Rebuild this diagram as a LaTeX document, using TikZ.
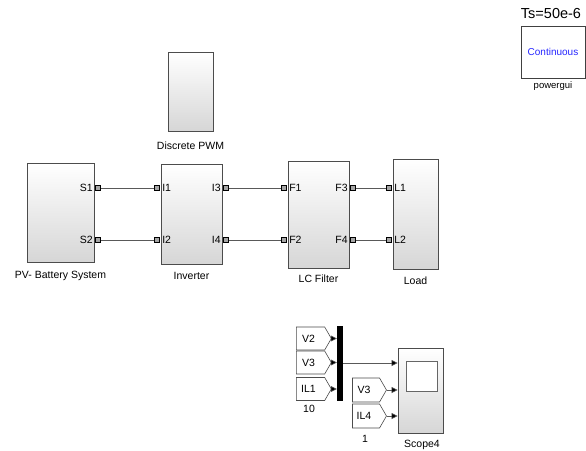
\documentclass[tikz,border=0pt]{standalone}
\usepackage{fontspec}
\setmainfont{Liberation Sans}
\usetikzlibrary{shapes.symbols,arrows.meta,shadows}
\tikzset{
  blk/.style={draw=black!70, line width=0.8pt, top color=white, bottom color=black!16, inner sep=0pt,
    drop shadow={shadow xshift=1.2pt, shadow yshift=-1.2pt, opacity=0.35}},
  port/.style={draw=black, line width=1.3pt, fill=black!35, minimum size=4.6pt, inner sep=0pt},
  plbl/.style={font=\fontsize{10.5}{11}\selectfont, inner sep=1.5pt},
  lbl/.style={font=\fontsize{10.5}{12}\selectfont, inner sep=0pt},
  wire/.style={draw=black!65, line width=0.6pt},
  sig/.style={draw=black!65, line width=0.6pt, -{Triangle[length=6pt,width=6pt,fill=black]}},
  tag/.style={signal, signal to=east, signal pointer angle=120, draw=black!70, line width=0.6pt, fill=white,
    inner sep=0pt, font=\fontsize{10.5}{12}\selectfont, align=left},
}
\begin{document}
\begin{tikzpicture}[x=1pt,y=-1pt]
\useasboundingbox (0,0) rectangle (586,450);
\fill[white] (0,0) rectangle (586,450);

% blocks
\node[blk, minimum width=45pt, minimum height=79pt] (pwm) at (190.5,91.5) {};
\node[lbl] (pwmL) at (190.5,146) {Discrete PWM};

\node[blk, minimum width=67pt, minimum height=99pt] (pv) at (60.5,212.5) {};
\node[blk, minimum width=61pt, minimum height=100pt] (inv) at (191.5,214) {};
\node[blk, minimum width=61pt, minimum height=107pt] (lc) at (318.5,214.5) {};
\node[blk, minimum width=45pt, minimum height=110pt] (load) at (415.5,214) {};

\node[lbl] (pvL) at (60.5,276) {PV- Battery System};
\node[lbl] (invL) at (191.5,276) {Inverter};
\node[lbl] (lcL) at (318.5,279) {LC Filter};
\node[lbl] (loadL) at (415.5,281) {Load};

% ports
\node[port] (s1) at (98,188) {};
\node[port] (s2) at (98,240) {};
\node[port] (i1) at (157,188) {};
\node[port] (i2) at (157,240) {};
\node[port] (i3) at (226,188) {};
\node[port] (i4) at (226,240) {};
\node[port] (f1) at (284,188) {};
\node[port] (f2) at (284,240) {};
\node[port] (f3) at (353,188) {};
\node[port] (f4) at (353,240) {};
\node[port] (l1) at (389,188) {};
\node[port] (l2) at (389,240) {};

% port labels
\node[plbl, anchor=east] (s1t) at (pv.east |- s1) {S1};
\node[plbl, anchor=east] (s2t) at (pv.east |- s2) {S2};
\node[plbl, anchor=west] (i1t) at (inv.west |- i1) {I1};
\node[plbl, anchor=west] (i2t) at (inv.west |- i2) {I2};
\node[plbl, anchor=east] (i3t) at (inv.east |- i3) {I3};
\node[plbl, anchor=east] (i4t) at (inv.east |- i4) {I4};
\node[plbl, anchor=west] (f1t) at (lc.west |- f1) {F1};
\node[plbl, anchor=west] (f2t) at (lc.west |- f2) {F2};
\node[plbl, anchor=east] (f3t) at (lc.east |- f3) {F3};
\node[plbl, anchor=east] (f4t) at (lc.east |- f4) {F4};
\node[plbl, anchor=west] (l1t) at (load.west |- l1) {L1};
\node[plbl, anchor=west] (l2t) at (load.west |- l2) {L2};

% wires
\draw[wire] (s1) -- (i1);
\draw[wire] (s2) -- (i2);
\draw[wire] (i3) -- (f1);
\draw[wire] (i4) -- (f2);
\draw[wire] (f3) -- (l1);
\draw[wire] (f4) -- (l2);

% powergui
\node[draw=black!75, line width=0.8pt, fill=white, minimum width=64pt, minimum height=52pt, inner sep=0pt,
  drop shadow={shadow xshift=1.2pt, shadow yshift=-1.2pt, opacity=0.35}] (pg) at (553,52) {};
\node[font=\fontsize{10}{12}\selectfont, text=blue!85, inner sep=0pt] (pgC) at (pg.center) {Continuous};
\node[font=\fontsize{14.5}{16}\selectfont, inner sep=0pt] (pgT) at (551,14) {Ts=50e-6};
\node[font=\fontsize{9.5}{11}\selectfont, inner sep=0pt] (pgL) at (553,86) {powergui};

% goto/from tags
\node[tag, minimum width=35pt, minimum height=23pt] (v2) at (310.5,338.5) {V2\hspace*{4pt}};
\node[tag, minimum width=35pt, minimum height=23pt] (v3a) at (310.5,362.5) {V3\hspace*{4pt}};
\node[tag, minimum width=35pt, minimum height=23pt] (il1) at (310.5,389) {IL1\hspace*{4pt}};
\node[fill=black, minimum width=6pt, minimum height=75pt, inner sep=0pt] (mux) at (340,363.5) {};
\node[lbl] (n10) at (309,409) {10};

\node[tag, minimum width=34pt, minimum height=24pt] (v3b) at (366,390) {V3\hspace*{4pt}};
\node[tag, minimum width=34pt, minimum height=24pt] (il4) at (366,416) {IL4\hspace*{4pt}};
\node[lbl] (n1) at (365,439) {1};

\node[blk, minimum width=45pt, minimum height=85pt] (scope) at (420.5,390.5) {};
\node[draw=black!60, line width=0.6pt, fill=white, minimum width=31pt, minimum height=30pt, inner sep=0pt] (screen) at (421.5,376) {};
\node[lbl] (scL) at (422,445) {Scope4};

\draw[sig] (v2.east) -- (mux.west |- v2.east);
\draw[sig] (v3a.east) -- (mux.west |- v3a.east);
\draw[sig] (il1.east) -- (mux.west |- il1.east);
\draw[sig] (mux.east |- 0,363) -- (scope.west |- 0,363);
\draw[sig] (v3b.east) -- (scope.west |- v3b.east);
\draw[sig] (il4.east) -- (scope.west |- il4.east);
\end{tikzpicture}
\end{document}
